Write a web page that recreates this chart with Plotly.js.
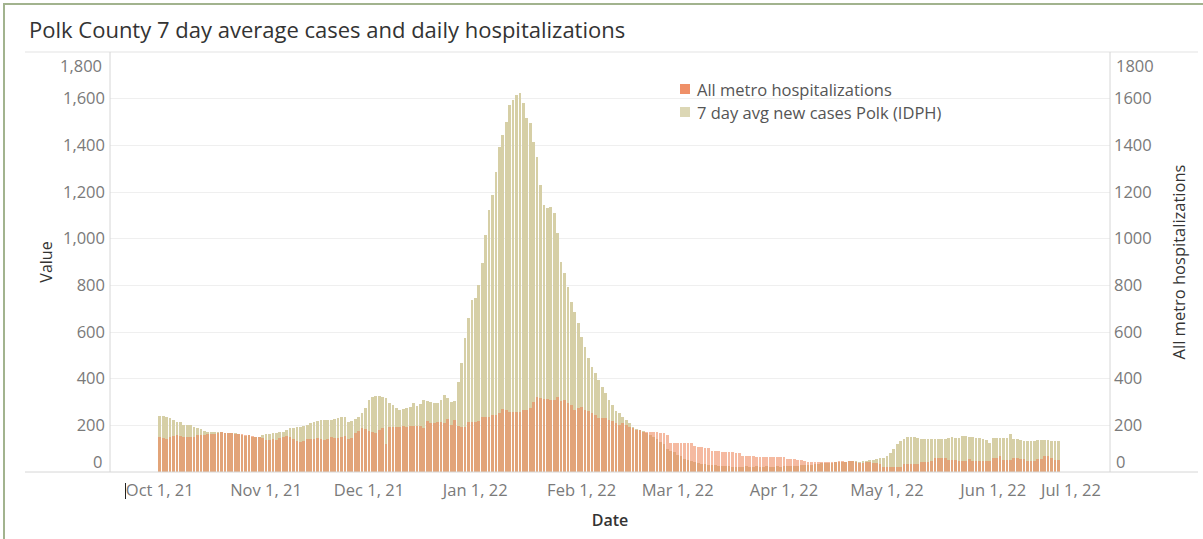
<!DOCTYPE html>
<html><head><meta charset="utf-8">
<script src="https://cdn.plot.ly/plotly-3.0.1.min.js"></script>
<style>
html,body{margin:0;padding:0;background:#fff;overflow:hidden;}
#chart{position:absolute;left:0;top:0;width:1203px;height:539px;}
#border{position:absolute;left:3px;top:3px;width:1200px;height:536px;border-left:2px solid #a2b38e;border-top:2px solid #a2b38e;pointer-events:none;}
</style></head>
<body>
<div id="chart"></div><div id="border"></div>
<script>
// ---- data ----
const startDate = "2021-10-01"; // first daily bar
const cases = [
241,240,234,230,223,213,213,201,201,201,
194,187,183,177,173,170,170,173,170,166,
166,166,166,163,159,156,159,151,148,151,
159,162,163,166,166,170,173,180,187,190,
194,194,197,201,208,213,220,223,223,223,
223,226,230,237,234,216,220,226,237,251,
273,309,323,326,326,323,316,294,287,273,
266,269,273,280,297,283,291,309,306,301,
297,297,310,328,318,301,303,385,466,573,
659,737,744,801,894,1016,1123,1187,1287,1394,
1444,1501,1573,1594,1616,1626,1580,1516,1494,1416,
1351,1230,1144,1130,1137,1109,1023,901,852,794,
730,687,637,580,537,487,451,423,394,365,
340,309,287,262,251,237,223,209,195,185,
180,175,166,160,148,140,128,120,100,92,
87,75,68,55,50,47,45,38,36,34,
32,30,28,27,26,25,24,23,23,23,
23,24,23,23,24,23,23,24,23,23,
24,23,24,25,26,27,27,28,29,30,
30,33,35,37,37,38,40,42,44,45,
45,46,46,46,45,46,48,50,52,55,
58,62,70,82,100,120,135,143,148,150,
151,144,142,140,140,140,141,140,140,141,
147,148,147,147,154,153,148,148,147,146,
140,139,123,144,144,144,144,145,161,140,
140,139,134,134,134,135,137,137,137,136,
133,133,133];
const hosp = [
149,145,140,150,155,158,155,151,151,150,
152,158,159,160,163,163,165,168,170,169,
168,166,163,162,164,160,158,155,152,150,
147,138,137,140,138,144,148,154,150,142,
132,130,135,140,141,142,145,140,137,140,
149,147,144,150,154,140,145,166,175,187,
186,175,172,168,180,190,120,192,194,195,
194,196,194,197,198,196,197,190,220,212,
210,214,216,212,226,200,223,196,194,194,
216,216,216,220,237,237,237,244,246,251,
268,266,259,259,259,259,266,266,273,301,
323,316,311,311,309,309,320,306,309,294,
287,266,273,280,266,263,251,244,230,230,
230,223,220,209,201,209,201,194,187,180,
178,173,170,170,170,170,168,166,157,124,
124,124,124,124,124,124,110,108,106,104,
103,90,89,88,87,87,86,86,81,81,
69,68,67,67,66,66,65,65,64,64,
64,66,66,56,55,54,52,50,49,45,
45,45,45,41,41,41,41,45,47,46,
45,46,47,45,37,40,44,44,40,40,
35,23,23,23,23,23,23,35,35,35,
35,35,44,44,44,48,62,62,62,62,
51,51,51,48,48,48,55,48,48,48,
48,48,48,62,62,69,51,51,51,62,
62,55,55,47,47,47,55,55,69,69,
62,51,51];
const seriesNames = ["All metro hospitalizations", "7 day avg new cases Polk (IDPH)"];
const seriesColors = ["#ec8254", "#d6cfa6"];
const legendSwatch = ["#ef9068", "#dcd7b5"];
const xTickVals = ["2021-10-01","2021-11-01","2021-12-01","2022-01-01","2022-02-01","2022-03-01","2022-04-01","2022-05-01","2022-06-01"];
const xTickText = ["Oct 1, 21","Nov 1, 21","Dec 1, 21","Jan 1, 22","Feb 1, 22","Mar 1, 22","Apr 1, 22","May 1, 22","Jun 1, 22"];
const xLastTick = {val: "2022-07-01", text: "Jul 1, 22"};
const yTickVals = [200,400,600,800,1000,1200,1400,1600];
const yTickTextLeft = ["200","400","600","800","1,000","1,200","1,400","1,600"];
const yTickTextRight = ["200","400","600","800","1000","1200","1400","1600"];
const yEdgeVals = [0, 1800];
const yEdgeLeft = ["0", "1,800"];
const yEdgeRight = ["0", "1800"];

// ---- build dates ----
const dates = [];
{
  const d0 = new Date(startDate + "T00:00:00Z");
  for (let i = 0; i < cases.length; i++) {
    const d = new Date(d0.getTime() + i * 86400000);
    dates.push(d.toISOString().slice(0, 10));
  }
}

const DAY = 86400000;
const FAM = "Open Sans, sans-serif";
const tickFont = {family: FAM, size: 16.5, color: "#7a7a7a"};

const traces = [
  {type: "bar", name: seriesNames[1], x: dates, y: cases, yaxis: "y",
   marker: {color: seriesColors[1], line: {width: 0}}, width: 0.8 * DAY, showlegend: false, hoverinfo: "skip"},
  {type: "bar", name: seriesNames[0], x: dates, y: hosp, yaxis: "y2",
   marker: {color: seriesColors[0], opacity: 0.55, line: {width: 0}}, width: 0.8 * DAY, showlegend: false, hoverinfo: "skip"}
];

// pixel helpers for plot-area paper coords (plot: x 110..1110, y 52..472)
const px = x => (x - 110) / 1000;
const py = y => (472 - y) / 420;

const annotations = [];
yEdgeVals.forEach((v, i) => {
  const shift = v === 0 ? 11 : -13;
  annotations.push({xref: "paper", yref: "y", x: 0, y: v, xanchor: "right", yanchor: "middle",
    xshift: -6, yshift: shift, text: yEdgeLeft[i], showarrow: false, font: tickFont});
  annotations.push({xref: "paper", yref: "y2", x: 1, y: v, xanchor: "left", yanchor: "middle",
    xshift: 4, yshift: shift, text: yEdgeRight[i], showarrow: false, font: tickFont});
});
annotations.push({xref: "x", yref: "paper", x: xLastTick.val, y: 0, xanchor: "right", yanchor: "top",
  xshift: 7, yshift: -4, text: xLastTick.text, showarrow: false, font: tickFont});
// legend text
seriesNames.forEach((n, i) => {
  annotations.push({xref: "paper", yref: "paper", x: px(695), y: py(89 + 23 * i), xanchor: "left", yanchor: "middle",
    text: n, showarrow: false, font: {family: FAM, size: 16.5, color: "#555"}});
});

const lineCol = "#d6d6d6";
const shapes = [
  {type: "line", xref: "paper", yref: "paper", x0: px(25), x1: px(1198), y0: 1, y1: 1, line: {color: "#e3e3e3", width: 1}},
  {type: "line", xref: "paper", yref: "paper", x0: px(25), x1: px(1198), y0: 0, y1: 0, line: {color: lineCol, width: 1}},
  {type: "line", xref: "paper", yref: "paper", x0: 0, x1: 0, y0: 0, y1: 1, line: {color: lineCol, width: 1}},
  {type: "line", xref: "paper", yref: "paper", x0: 1, x1: 1, y0: 0, y1: 1, line: {color: lineCol, width: 1}},
  // text cursor artefact before first tick label
  {type: "line", xref: "paper", yref: "paper", x0: px(125.5), x1: px(125.5), y0: py(483), y1: py(499), line: {color: "#222", width: 1}}
];
legendSwatch.forEach((c, i) => {
  shapes.push({type: "rect", xref: "paper", yref: "paper", x0: px(680), x1: px(690), y0: py(84 + 23 * i), y1: py(94 + 23 * i),
    fillcolor: c, line: {width: 0}});
});

const layout = {
  width: 1203, height: 539,
  margin: {l: 110, r: 93, t: 52, b: 67, pad: 0},
  paper_bgcolor: "#fff", plot_bgcolor: "#fff",
  barmode: "overlay", bargap: 0,
  showlegend: false,
  title: {text: "Polk County 7 day average cases and daily hospitalizations",
    x: 29 / 1203, xref: "container", xanchor: "left", y: 1 - 30 / 539, yref: "container", yanchor: "middle",
    font: {family: FAM, size: 22, color: "#333"}},
  xaxis: {type: "date", range: ["2021-09-16 12:00", "2022-07-05 01:00"],
    tickmode: "array", tickvals: xTickVals, ticktext: xTickText,
    showgrid: false, zeroline: false, showline: false, ticks: "", tickfont: tickFont, ticklabelstandoff: 6,
    title: {text: "Date", font: {family: FAM, size: 16, color: "#333", weight: 600}, standoff: 15}},
  yaxis: {range: [0, 1800], tickmode: "array", tickvals: yTickVals, ticktext: yTickTextLeft,
    showgrid: true, gridcolor: "#efefef", gridwidth: 1, zeroline: false, showline: false, ticks: "",
    tickfont: tickFont, ticklabelstandoff: 4,
    title: {text: "Value", font: {family: FAM, size: 16, color: "#333"}, standoff: 6}},
  yaxis2: {range: [0, 1800], overlaying: "y", side: "right", tickmode: "array", tickvals: yTickVals, ticktext: yTickTextRight,
    showgrid: false, zeroline: false, showline: false, ticks: "", tickfont: tickFont, ticklabelstandoff: 3,
    title: {text: "All metro hospitalizations", font: {family: FAM, size: 16.5, color: "#333"}, standoff: 22}},
  annotations: annotations,
  shapes: shapes
};

Plotly.newPlot("chart", traces, layout, {displayModeBar: false, staticPlot: true});
</script>
</body></html>
